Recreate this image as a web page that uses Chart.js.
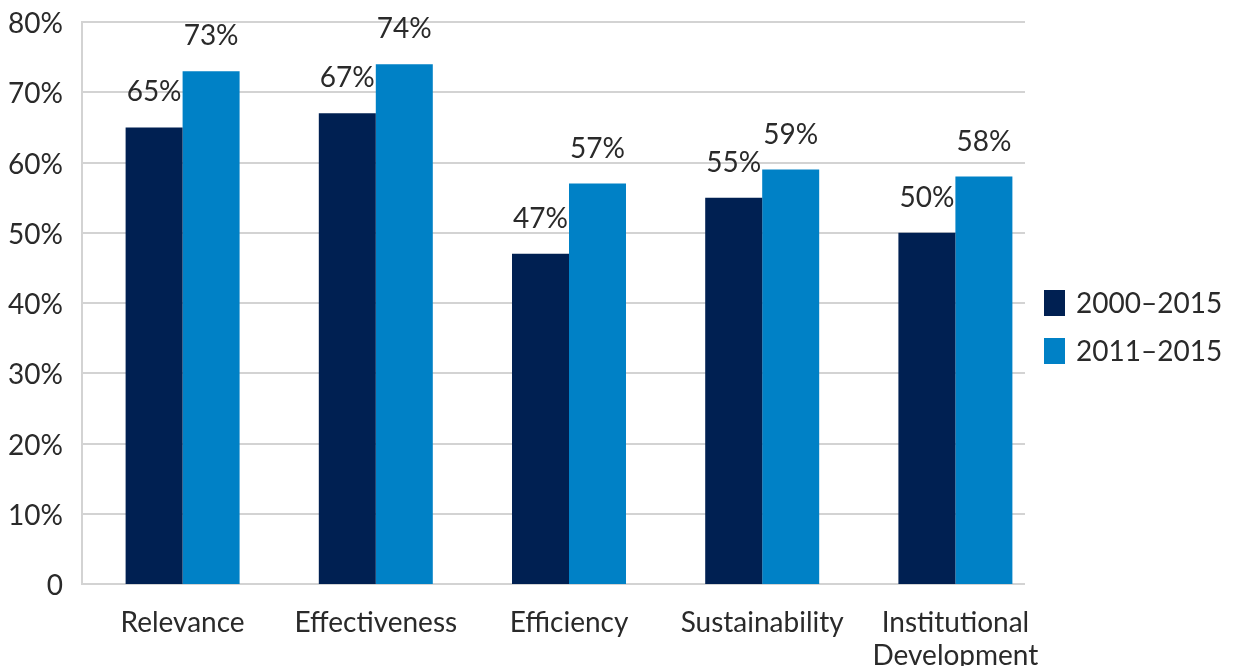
<!DOCTYPE html>
<html>
<head>
<meta charset="utf-8">
<script src="https://cdn.jsdelivr.net/npm/chart.js@4.4.1/dist/chart.umd.min.js"></script>
<style>
  html, body { margin: 0; padding: 0; background: #ffffff; overflow: hidden; }
  canvas { display: block; }
</style>
</head>
<body>
<canvas id="chart" width="1240" height="666"></canvas>
<script>
// Evaluation criteria and the share of projects rated satisfactory, by period
const categories = ['Relevance', 'Effectiveness', 'Efficiency', 'Sustainability', ['Institutional', 'Development']];
const seriesNames = ['2000–2015', '2011–2015'];
const values2000to2015 = [65, 67, 47, 55, 50];
const values2011to2015 = [73, 74, 57, 59, 58];
const yTickValues = [0, 10, 20, 30, 40, 50, 60, 70, 80];

const seriesColors = ['#002052', '#0081C6'];
const FONT_FAMILY = 'Lato, "Open Sans", sans-serif';
const TEXT_COLOR = '#2a2a2a';
const FONT_SIZE = 28;

// Horizontal grid lines and the left axis rule, drawn beneath the bars
const gridPlugin = {
  id: 'gridLines',
  beforeDatasetsDraw(chart) {
    const { ctx, chartArea, scales } = chart;
    const y = scales.y;
    const x0 = chartArea.left - 4;
    const x1 = chartArea.right - 27;
    ctx.save();
    ctx.strokeStyle = '#d3d3d3';
    ctx.lineWidth = 2;
    yTickValues.forEach(v => {
      const py = Math.round(y.getPixelForValue(v));
      ctx.beginPath();
      ctx.moveTo(x0, py);
      ctx.lineTo(x1, py);
      ctx.stroke();
    });
    ctx.beginPath();
    ctx.moveTo(x0, Math.round(y.getPixelForValue(80)) - 1);
    ctx.lineTo(x0, Math.round(y.getPixelForValue(0)) + 1);
    ctx.stroke();
    ctx.restore();
  }
};

// Percentage labels above each bar
const valueLabelPlugin = {
  id: 'valueLabels',
  afterDatasetsDraw(chart) {
    const { ctx } = chart;
    ctx.save();
    ctx.font = `${FONT_SIZE}px ${FONT_FAMILY}`;
    ctx.fillStyle = TEXT_COLOR;
    ctx.textAlign = 'center';
    ctx.textBaseline = 'alphabetic';
    chart.data.datasets.forEach((ds, di) => {
      const meta = chart.getDatasetMeta(di);
      meta.data.forEach((bar, i) => {
        ctx.fillText(ds.data[i] + '%', bar.x, bar.y - 26);
      });
    });
    ctx.restore();
  }
};

// Series key on the right-hand side
const keyPlugin = {
  id: 'seriesKey',
  afterDraw(chart) {
    const { ctx, chartArea } = chart;
    const boxX = chartArea.right - 8;
    const firstCenter = 303;
    const step = 48;
    ctx.save();
    ctx.font = `${FONT_SIZE}px ${FONT_FAMILY}`;
    ctx.textAlign = 'left';
    ctx.textBaseline = 'alphabetic';
    chart.data.datasets.forEach((ds, i) => {
      const cy = firstCenter + i * step;
      ctx.fillStyle = ds.backgroundColor;
      ctx.fillRect(boxX, cy - 13, 21, 26);
      ctx.fillStyle = TEXT_COLOR;
      ctx.fillText(ds.label, boxX + 32, cy + 10);
    });
    ctx.restore();
  }
};

new Chart(document.getElementById('chart'), {
  type: 'bar',
  data: {
    labels: categories,
    datasets: [
      { label: seriesNames[0], data: values2000to2015, backgroundColor: seriesColors[0] },
      { label: seriesNames[1], data: values2011to2015, backgroundColor: seriesColors[1] }
    ]
  },
  options: {
    responsive: false,
    devicePixelRatio: 1,
    animation: false,
    layout: { padding: { top: 22, right: 188, bottom: 0, left: 0 } },
    datasets: { bar: { categoryPercentage: 0.59, barPercentage: 1.0, borderWidth: 0 } },
    plugins: {
      legend: { display: false },
      tooltip: { enabled: false }
    },
    scales: {
      x: {
        grid: { display: false, drawTicks: false },
        border: { display: false },
        ticks: {
          color: TEXT_COLOR,
          font: { family: FONT_FAMILY, size: FONT_SIZE, lineHeight: 1.18 },
          padding: 22,
          maxRotation: 0,
          autoSkip: false
        },
        afterFit(scale) {
          scale.height = 82;
          scale.paddingLeft = 0;
          scale.paddingRight = 0;
        }
      },
      y: {
        min: 0,
        max: 80,
        grid: { display: false, drawTicks: false },
        border: { display: false },
        afterBuildTicks(scale) { scale.ticks = yTickValues.map(v => ({ value: v })); },
        ticks: {
          color: TEXT_COLOR,
          font: { family: FONT_FAMILY, size: FONT_SIZE },
          padding: 23,
          labelOffset: 2,
          callback: v => (v === 0 ? '0' : v + '%')
        },
        afterFit(scale) {
          scale.width = 86;
          scale.paddingTop = 0;
          scale.paddingBottom = 0;
        }
      }
    }
  },
  plugins: [gridPlugin, valueLabelPlugin, keyPlugin]
});
</script>
</body>
</html>
